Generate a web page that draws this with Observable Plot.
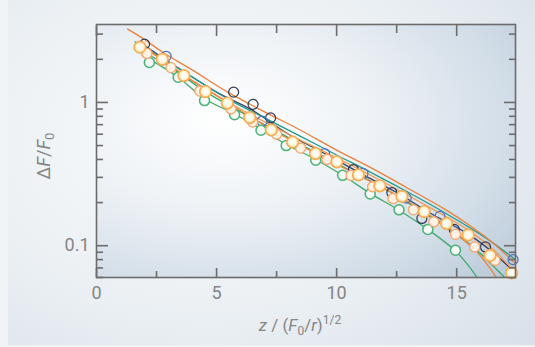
<!DOCTYPE html>
<html>
<head>
<meta charset="utf-8">
<script src="https://cdn.jsdelivr.net/npm/d3@7"></script>
<script src="https://cdn.jsdelivr.net/npm/@observablehq/plot@0.6"></script>
<style>
  html, body { margin: 0; padding: 0; }
  body { width: 535px; height: 347px; background: #f1f4f7; position: relative; overflow: hidden; font-family: Roboto, "Liberation Sans", sans-serif; }
  #panel { position: absolute; left: 8px; top: 0; width: 527px; height: 345px;
    background: radial-gradient(ellipse 560px 400px at 200px 140px, #fbfcfd 0%, #eaeff3 45%, #d6dfe8 80%, #ccd7e2 100%); }
  #chart { position: absolute; left: 0; top: 0; }
</style>
</head>
<body>
<div id="panel"></div>
<div id="chart"></div>
<script>
// ---- axis ticks and labels ----
const xMajorTicks = [0, 5, 10, 15];
const xMinorTicks = [2.5, 7.5, 12.5];
const yMajorTicks = [0.1, 1];
const yMajorLabels = ["0.1", "1"];
const yMinorTicks = [0.06, 0.07, 0.08, 0.09, 0.2, 0.3, 0.4, 0.5, 0.6, 0.7, 0.8, 0.9, 2, 3];

// ---- data points [x, ΔF/F0] ----
const pointsYellow = [[1.81,2.43],[2.74,2.0],[3.64,1.54],[4.54,1.19],[5.45,0.99],[6.38,0.785],[7.28,0.643],[8.17,0.529],[9.12,0.44],[10.01,0.385],[10.91,0.312],[11.8,0.262],[12.72,0.221],[13.65,0.173],[14.58,0.143],[15.48,0.119],[16.39,0.0855],[17.29,0.0646]];
const pointsGreen = [[2.2,1.9],[3.4,1.5],[4.5,1.03],[5.75,0.82],[6.85,0.64],[7.9,0.5],[9.13,0.395],[10.25,0.31],[11.4,0.23],[12.6,0.178],[13.8,0.13],[14.95,0.093]];
const pointsPeach = [[2.1,2.2],[3.1,1.75],[4.3,1.2],[5.6,0.9],[6.5,0.73],[7.5,0.6],[8.5,0.48],[9.6,0.4],[10.6,0.31],[11.5,0.258],[12.35,0.213],[13.2,0.178],[14.05,0.147],[14.95,0.12],[15.75,0.098],[16.6,0.079]];
const pointsNavy = [[2.0,2.55],[5.71,1.18],[6.52,0.97],[7.25,0.78],[10.7,0.34],[12.3,0.235],[13.55,0.155],[14.9,0.13],[16.2,0.098]];
const pointsBlue = [[2.9,2.1],[6.9,0.74],[9.5,0.44],[11.1,0.32],[12.9,0.215],[14.3,0.16],[17.35,0.08]];

// ---- fitted curves [x, ΔF/F0] ----
const curveOrangeTop = [[1.3,3.25],[2.0,2.75],[2.74,2.25],[4,1.68],[5.5,1.17],[7,0.86],[8.5,0.64],[10,0.465],[11.5,0.345],[13,0.25],[14.5,0.18],[15.5,0.14],[16.5,0.105],[17.45,0.075]];
const curveTeal = [[1.6,2.65],[2.5,2.15],[4,1.5],[5.5,1.05],[7,0.78],[8.5,0.58],[10,0.43],[11.5,0.32],[13,0.235],[14.5,0.17],[15.5,0.135],[16.5,0.105],[17.45,0.08]];
const curveGreenLow = [[1.9,2.15],[3.4,1.5],[4.5,1.06],[5.75,0.83],[6.85,0.65],[7.9,0.51],[9.13,0.4],[10.25,0.31],[11.4,0.232],[12.6,0.177],[13.8,0.13],[14.95,0.092],[15.45,0.074],[15.85,0.06]];
const curveOrangeLow = [[1.8,2.45],[2.74,2.0],[3.64,1.55],[5.45,1.0],[7.28,0.65],[9.12,0.44],[11,0.305],[12.72,0.215],[14,0.158],[15,0.12],[15.8,0.092],[16.3,0.073],[16.65,0.06]];
const curveGreenMid = [[1.7,2.35],[3,1.8],[4.5,1.2],[6,0.86],[7.5,0.63],[9,0.46],[10.5,0.34],[12,0.25],[13.5,0.175],[15,0.12],[16,0.088],[16.6,0.07],[17.0,0.06]];
const curveNavy = [[2,2.5],[3.5,1.7],[5,1.18],[6.5,0.88],[8,0.6],[9.5,0.44],[11,0.32],[12.5,0.235],[14,0.165],[15.5,0.12],[16.5,0.09],[17.3,0.068]];
const curveOrange2 = [[2.2,2.3],[4,1.42],[6,0.9],[8,0.6],[10,0.41],[12,0.275],[14,0.18],[15.5,0.128],[16.5,0.095],[17.2,0.072],[17.45,0.065]];

const toRows = (arr) => arr.map(([x, y]) => ({x, y}));

const curves = [
  {data: curveGreenMid, color: "#3aa86c"},
  {data: curveNavy, color: "#34405e"},
  {data: curveTeal, color: "#24998a"},
  {data: curveOrange2, color: "#ee9a58"},
  {data: curveGreenLow, color: "#40ab6c"},
  {data: curveOrangeLow, color: "#e6843f"},
  {data: curveOrangeTop, color: "#e8813b"}
];

const frameColor = "#6c6c6c";
const labelColor = "#858585";

const plot = Plot.plot({
  width: 535,
  height: 347,
  marginLeft: 96,
  marginRight: 20,
  marginTop: 24,
  marginBottom: 70,
  style: {background: "transparent", fontFamily: "Roboto, 'Liberation Sans', sans-serif", overflow: "visible"},
  x: {domain: [0, 17.45]},
  y: {type: "log", domain: [0.06, 3.5]},
  marks: [
    Plot.frame({fill: "url(#plotbg)", stroke: "none"}),
    ...curves.map(c => Plot.line(toRows(c.data), {x: "x", y: "y", stroke: c.color, strokeWidth: 1.3, curve: "catmull-rom", clip: true})),
    Plot.dot(toRows(pointsNavy), {x: "x", y: "y", r: 5, stroke: "#2e3852", strokeWidth: 1.2, fill: "none"}),
    Plot.dot(toRows(pointsBlue), {x: "x", y: "y", r: 5, stroke: "#5370b6", strokeWidth: 1.2, fill: "none"}),
    Plot.dot(toRows(pointsGreen), {x: "x", y: "y", r: 5, stroke: "#49b077", strokeWidth: 1.5, fill: "#f4faf6"}),
    Plot.dot(toRows(pointsPeach), {x: "x", y: "y", r: 5, stroke: "#f1a76d", strokeWidth: 1.3, fill: "#fff1e4"}),
    Plot.dot(toRows(pointsYellow), {x: "x", y: "y", r: 5.8, stroke: "#f2ad55", strokeWidth: 1.6, fill: "url(#dotglow)"}),
    Plot.frame({stroke: frameColor, strokeWidth: 1.6}),
    // inward ticks, all four sides
    Plot.axisX(xMajorTicks, {anchor: "bottom", tickSize: -9, tickFormat: () => "", stroke: frameColor, strokeWidth: 1.6, label: null}),
    Plot.axisX(xMinorTicks, {anchor: "bottom", tickSize: -6, tickFormat: () => "", stroke: frameColor, strokeWidth: 1.6, label: null}),
    Plot.axisX(xMajorTicks, {anchor: "top", tickSize: -11, tickFormat: () => "", stroke: frameColor, strokeWidth: 1.6, label: null}),
    Plot.axisX(xMinorTicks, {anchor: "top", tickSize: -8, tickFormat: () => "", stroke: frameColor, strokeWidth: 1.6, label: null}),
    Plot.axisY(yMajorTicks, {anchor: "left", tickSize: -12, tickFormat: () => "", stroke: frameColor, strokeWidth: 1.6, label: null}),
    Plot.axisY(yMinorTicks, {anchor: "left", tickSize: -7, tickFormat: () => "", stroke: frameColor, strokeWidth: 1.6, label: null}),
    Plot.axisY(yMajorTicks, {anchor: "right", tickSize: -12, tickFormat: () => "", stroke: frameColor, strokeWidth: 1.6, label: null}),
    Plot.axisY(yMinorTicks, {anchor: "right", tickSize: -7, tickFormat: () => "", stroke: frameColor, strokeWidth: 1.6, label: null}),
    // tick labels
    Plot.axisX(xMajorTicks, {anchor: "bottom", tickSize: 0, tickPadding: 9, fontSize: 18, fill: labelColor, label: null}),
    Plot.axisY(yMajorTicks, {anchor: "left", tickSize: 0, tickPadding: 7, fontSize: 18, fill: labelColor, label: null,
      tickFormat: d => yMajorLabels[yMajorTicks.indexOf(d)]})
  ]
});

// gradient definitions
const svg = d3.select(plot);
const defs = svg.insert("defs", ":first-child");
const g1 = defs.append("radialGradient").attr("id", "plotbg").attr("cx", 0.3).attr("cy", 0.38).attr("r", 0.9);
g1.append("stop").attr("offset", 0).attr("stop-color", "#ffffff");
g1.append("stop").attr("offset", 0.4).attr("stop-color", "#eef2f6");
g1.append("stop").attr("offset", 0.75).attr("stop-color", "#d3dee8");
g1.append("stop").attr("offset", 1).attr("stop-color", "#bccbda");
const g2 = defs.append("radialGradient").attr("id", "dotglow");
g2.append("stop").attr("offset", 0).attr("stop-color", "#ffffff");
g2.append("stop").attr("offset", 0.55).attr("stop-color", "#fff8e6");
g2.append("stop").attr("offset", 1).attr("stop-color", "#fbdc9a");

// axis titles
const xt = svg.append("text").attr("x", 300).attr("y", 331).attr("text-anchor", "middle")
  .attr("fill", labelColor).attr("font-size", 17);
xt.append("tspan").attr("font-style", "italic").text("z");
xt.append("tspan").text(" / (");
xt.append("tspan").attr("font-style", "italic").text("F");
xt.append("tspan").attr("font-size", 12).attr("dy", 4).text("0");
xt.append("tspan").attr("dy", -4).text("/");
xt.append("tspan").attr("font-style", "italic").text("r");
xt.append("tspan").text(")");
xt.append("tspan").attr("font-size", 12).attr("dy", -7).text("1/2");

const yt = svg.append("text").attr("transform", "translate(50,156) rotate(-90)").attr("text-anchor", "middle")
  .attr("fill", labelColor).attr("font-size", 18);
yt.append("tspan").text("Δ");
yt.append("tspan").attr("font-style", "italic").text("F");
yt.append("tspan").text("/");
yt.append("tspan").attr("font-style", "italic").text("F");
yt.append("tspan").attr("font-size", 13).attr("dy", 4).text("0");

document.getElementById("chart").appendChild(plot);
</script>
</body>
</html>
